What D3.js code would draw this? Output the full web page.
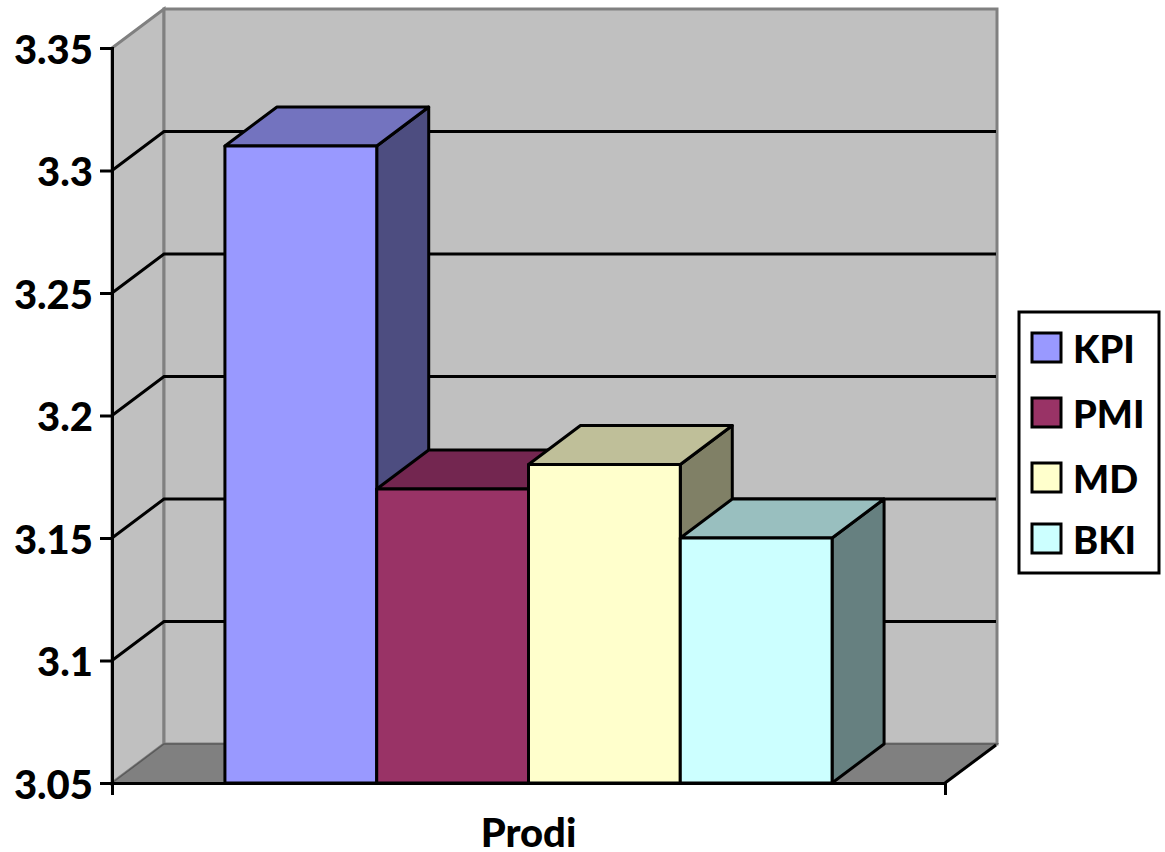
<!DOCTYPE html>
<html>
<head>
<meta charset="utf-8">
<style>
  html, body { margin: 0; padding: 0; background: #fff; }
  svg { display: block; }
  text { font-family: Lato, "Open Sans", sans-serif; font-weight: 900; fill: #000; }
</style>
<script src="https://cdn.jsdelivr.net/npm/d3@7/dist/d3.min.js"></script>
</head>
<body>
<svg id="chart" width="1165" height="852"></svg>
<script>
// Chart data
const groupName = "Prodi";
const seriesNames = ["KPI", "PMI", "MD", "BKI"];
const seriesValues = [3.31, 3.17, 3.18, 3.15];
const seriesColors = ["#9999ff", "#993366", "#ffffcc", "#ccffff"];
const topColors = ["#7373bf", "#732650", "#bfbf99", "#99bfbf"];
const sideColors = ["#4d4d80", "#4d1a33", "#808066", "#668080"];
const yTicks = [3.05, 3.1, 3.15, 3.2, 3.25, 3.3, 3.35];

// Plot frame and the oblique offset of the 3D box
const plotLeft = 112, plotRight = 945, plotBottom = 783, plotTop = 48;
const depthX = 52, depthY = -39;
const lineWidth = 3, labelSize = 40, legendSize = 38;

const svg = d3.select("#chart");
const y = d3.scaleLinear().domain([3.05, 3.35]).range([plotBottom, plotTop]);
const x0 = d3.scaleBand().domain([groupName]).range([plotLeft, plotRight]).paddingOuter(0.186);
const x1 = d3.scaleBand().domain(seriesNames).range([x0(groupName), x0(groupName) + x0.bandwidth()]);
const poly = pts => pts.map(p => p.join(",")).join(" ");

const wallGray = "#c0c0c0", edgeGray = "#808080";

// Left wall, back wall and floor
svg.append("polygon")
  .attr("points", poly([[plotLeft, y(3.35)], [plotLeft + depthX, y(3.35) + depthY], [plotLeft + depthX, y(3.05) + depthY], [plotLeft, y(3.05)]]))
  .attr("fill", wallGray).attr("stroke", edgeGray).attr("stroke-width", lineWidth);
svg.append("rect")
  .attr("x", plotLeft + depthX).attr("y", y(3.35) + depthY)
  .attr("width", plotRight - plotLeft).attr("height", y(3.05) - y(3.35))
  .attr("fill", wallGray).attr("stroke", edgeGray).attr("stroke-width", lineWidth);
svg.append("polygon")
  .attr("points", poly([[plotLeft, plotBottom], [plotLeft + depthX, plotBottom + depthY], [plotRight + depthX, plotBottom + depthY], [plotRight, plotBottom]]))
  .attr("fill", edgeGray).attr("stroke", "#5a5a5a").attr("stroke-width", 1.5);
svg.append("line")
  .attr("x1", plotRight).attr("y1", plotBottom).attr("x2", plotRight + depthX - 1).attr("y2", plotBottom + depthY + 1)
  .attr("stroke", "#000").attr("stroke-width", lineWidth);

// Gridlines fold from the left wall onto the back wall
const gridTicks = yTicks.slice(1, -1);
svg.append("g").selectAll("polyline").data(gridTicks).join("polyline")
  .attr("points", d => poly([[plotLeft, y(d)], [plotLeft + depthX, y(d) + depthY], [plotRight + depthX - 1, y(d) + depthY]]))
  .attr("fill", "none").attr("stroke", "#000").attr("stroke-width", lineWidth);

// Bars, painted left to right so each one overlaps its neighbour's side face
const bars = svg.append("g").selectAll("g").data(seriesNames).join("g");
const bw = x1.bandwidth();
bars.append("polygon")
  .attr("points", (d, i) => { const a = x1(d) + bw, t = y(seriesValues[i]);
    return poly([[a, t], [a + depthX, t + depthY], [a + depthX, plotBottom + depthY], [a, plotBottom]]); })
  .attr("fill", (d, i) => sideColors[i]);
bars.append("polygon")
  .attr("points", (d, i) => { const a = x1(d), t = y(seriesValues[i]);
    return poly([[a, t], [a + depthX, t + depthY], [a + bw + depthX, t + depthY], [a + bw, t]]); })
  .attr("fill", (d, i) => topColors[i]);
bars.append("rect")
  .attr("x", d => x1(d)).attr("y", (d, i) => y(seriesValues[i]))
  .attr("width", bw).attr("height", (d, i) => plotBottom - y(seriesValues[i]))
  .attr("fill", (d, i) => seriesColors[i]);
bars.selectAll("polygon, rect")
  .attr("stroke", "#000").attr("stroke-width", lineWidth).attr("stroke-linejoin", "round");

// Value axis
const yAxis = svg.append("g").attr("transform", `translate(${plotLeft},0)`)
  .call(d3.axisLeft(y).tickValues(yTicks).tickSize(12).tickPadding(7).tickFormat(d3.format("~g")));
yAxis.attr("font-family", null).attr("font-size", null);
yAxis.selectAll("path, line").attr("stroke", "#000").attr("stroke-width", lineWidth);
yAxis.selectAll("text").attr("font-size", labelSize).attr("dy", "0.38em");

// Category axis with its end ticks
const xEdge = d3.scaleLinear().domain([0, 1]).range([plotLeft, plotRight]);
const xAxis = svg.append("g").attr("transform", `translate(0,${plotBottom})`)
  .call(d3.axisBottom(xEdge).tickValues([0, 1]).tickSize(12).tickSizeOuter(0).tickFormat(""));
xAxis.selectAll("path, line").attr("stroke", "#000").attr("stroke-width", lineWidth);
svg.append("text").attr("x", x0(groupName) + x0.bandwidth() / 2).attr("y", 847)
  .attr("text-anchor", "middle").attr("font-size", labelSize).text(groupName);

// Legend
const legendRows = [347, 412, 477, 538];
svg.append("rect").attr("x", 1019).attr("y", 312).attr("width", 140).attr("height", 261)
  .attr("fill", "#fff").attr("stroke", "#000").attr("stroke-width", lineWidth);
const legend = svg.append("g").selectAll("g").data(seriesNames).join("g")
  .attr("transform", (d, i) => `translate(1032,${legendRows[i]})`);
legend.append("rect").attr("y", -14).attr("width", 29).attr("height", 29)
  .attr("fill", (d, i) => seriesColors[i]).attr("stroke", "#000").attr("stroke-width", lineWidth);
legend.append("text").attr("x", 41).attr("y", 16).attr("font-size", legendSize).text(d => d);
</script>
</body>
</html>
